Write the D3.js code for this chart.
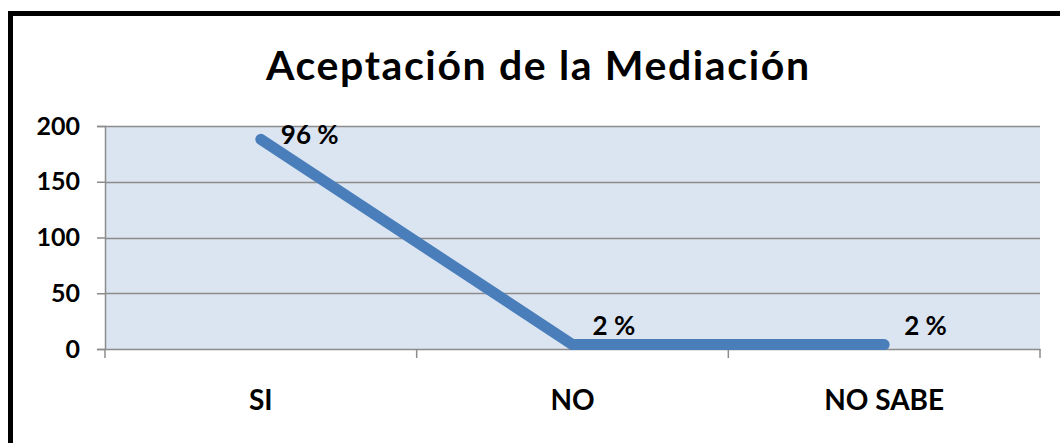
<!DOCTYPE html>
<html>
<head>
<meta charset="utf-8">
<script src="https://cdn.jsdelivr.net/npm/d3@7"></script>
<style>
  html, body { margin: 0; padding: 0; background: #fff; }
  svg { display: block; }
  text { font-family: Lato, "Open Sans", sans-serif; font-weight: bold; fill: #000; }
</style>
</head>
<body>
<svg id="chart" width="1060" height="443"></svg>
<script>
const categories = ["SI", "NO", "NO SABE"];
const values = [188, 4, 4];
const percentLabels = ["96 %", "2 %", "2 %"];
const yTicks = [0, 50, 100, 150, 200];
const title = "Aceptación de la Mediación";

const svg = d3.select("#chart");
const plot = { left: 105, right: 1040, top: 126, bottom: 349 };

// outer frame
svg.append("rect")
  .attr("x", 10.5).attr("y", 13.5)
  .attr("width", 1100).attr("height", 500)
  .attr("fill", "#fff").attr("stroke", "#000").attr("stroke-width", 5);

// title
svg.append("text")
  .attr("x", 537.5).attr("y", 80)
  .attr("text-anchor", "middle")
  .attr("font-size", 41)
  .attr("textLength", 543)
  .attr("lengthAdjust", "spacing")
  .text(title);

const x = d3.scaleBand().domain(categories).range([plot.left, plot.right]).padding(0);
const y = d3.scaleLinear().domain([0, 200]).range([plot.bottom, plot.top]);

// plot background
svg.append("rect")
  .attr("x", plot.left).attr("y", plot.top)
  .attr("width", plot.right - plot.left).attr("height", plot.bottom - plot.top)
  .attr("fill", "#DBE5F1");

// gridlines
svg.append("g").selectAll("line").data(yTicks.filter(d => d > 0)).join("line")
  .attr("x1", plot.left).attr("x2", plot.right)
  .attr("y1", d => Math.round(y(d)) + 0.5).attr("y2", d => Math.round(y(d)) + 0.5)
  .attr("stroke", "#8C8C8C").attr("stroke-width", 1.5);

// y axis
const yAxis = d3.axisLeft(y).tickValues(yTicks).tickSize(8).tickPadding(17);
const gy = svg.append("g").attr("transform", `translate(${plot.left},0)`).call(yAxis);
gy.select(".domain").attr("stroke", "#8C8C8C").attr("stroke-width", 1.5);
gy.selectAll(".tick line").attr("stroke", "#8C8C8C").attr("stroke-width", 1.5);
gy.selectAll(".tick text").attr("font-size", 25).attr("fill", "#000")
  .attr("font-family", "Lato, sans-serif").attr("font-weight", "bold");

// x axis
const xAxis = d3.axisBottom(x).tickSize(0).tickPadding(41);
const gx = svg.append("g").attr("transform", `translate(0,${plot.bottom})`).call(xAxis);
gx.select(".domain").attr("stroke", "#8C8C8C").attr("stroke-width", 1.5);
gx.selectAll(".tick text").attr("font-size", 28).attr("fill", "#000")
  .attr("font-family", "Lato, sans-serif").attr("font-weight", "bold");
// category boundary tick marks
const bounds = categories.map(c => x(c)).concat([x(categories[categories.length - 1]) + x.bandwidth()]);
svg.append("g").selectAll("line").data(bounds).join("line")
  .attr("x1", d => d).attr("x2", d => d)
  .attr("y1", plot.bottom).attr("y2", plot.bottom + 9)
  .attr("stroke", "#8C8C8C").attr("stroke-width", 1.5);

// line
const cx = c => x(c) + x.bandwidth() / 2;
const line = d3.line().x((d, i) => cx(categories[i])).y(d => y(d));
svg.append("path")
  .datum(values)
  .attr("d", line)
  .attr("fill", "none")
  .attr("stroke", "#4A7EBB")
  .attr("stroke-width", 11)
  .attr("stroke-linecap", "round")
  .attr("stroke-linejoin", "round");

// data labels
svg.append("g").selectAll("text").data(values).join("text")
  .attr("x", (d, i) => cx(categories[i]) + 20)
  .attr("y", d => Math.max(plot.top + 18, y(d) - 9.5))
  .attr("text-anchor", "start")
  .attr("font-size", 26)
  .text((d, i) => percentLabels[i]);
</script>
</body>
</html>
